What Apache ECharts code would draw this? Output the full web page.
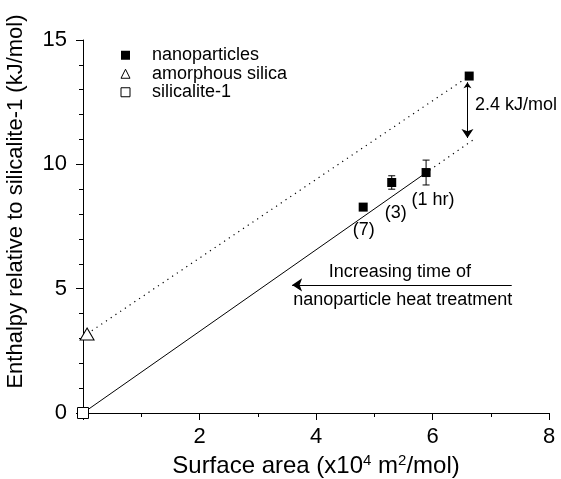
<!DOCTYPE html>
<html>
<head>
<meta charset="utf-8">
<script src="https://cdn.jsdelivr.net/npm/echarts@6/dist/echarts.min.js"></script>
<style>
  html, body { margin: 0; padding: 0; background: #fff; }
  #chart { width: 561px; height: 479px; }
</style>
</head>
<body>
<div id="chart"></div>
<script>
// ---- data ----
var nanoX = [6.63, 5.89, 5.30, 4.81];
var nanoY = [13.55, 9.67, 9.27, 8.28];
var nanoErr = [0, 0.5, 0.27, 0];
var amorphousX = [0.07];
var amorphousY = [3.18];
var silicaliteX = [0];
var silicaliteY = [0];
var fitLine = [[0, 0], [5.9, 9.68]];
var fitExtrap = [[5.95, 9.76], [6.75, 11.07]];
var amorphousLine = [[0.07, 3.18], [6.63, 13.55]];
var gapArrow = [[6.6, 13.3], [6.6, 11.06]];
var timeArrow = [[7.36, 5.15], [3.59, 5.15]];
var annotations = [
  [4.82, 7.36, '(7)', 'center'],
  [5.37, 8.04, '(3)', 'center'],
  [6.01, 8.56, '(1 hr)', 'center'],
  [6.73, 12.38, '2.4 kJ/mol', 'left'],
  [5.44, 5.67, 'Increasing time of', 'center'],
  [5.49, 4.54, 'nanoparticle heat treatment', 'center']
];
var xTicks = { min: 0, max: 8, interval: 2 };
var yTicks = { min: 0, max: 15, interval: 5 };
var xName = 'Surface area (x10{sup|4} m{sup|2}/mol)';
var yName = 'Enthalpy relative to silicalite-1 (kJ/mol)';

var FONT = '"Liberation Sans", Arial, sans-serif';

function zip(xs, ys) { return xs.map(function (x, i) { return [x, ys[i]]; }); }

var errData = nanoX.map(function (x, i) { return [x, nanoY[i], nanoErr[i]]; })
  .filter(function (d) { return d[2] > 0; });

var chart = echarts.init(document.getElementById('chart'), null, { renderer: 'canvas' });

var axisCommon = {
  axisLine: { onZero: false, lineStyle: { color: '#000', width: 1 } },
  axisTick: { show: true, inside: false, length: 7, lineStyle: { color: '#000' } },
  splitLine: { show: false },
  minorSplitLine: { show: false },
  axisLabel: { color: '#000', fontFamily: FONT, fontSize: 22 },
  nameTextStyle: { color: '#000', fontFamily: FONT, fontSize: 22 }
};

var option = {
  animation: false,
  backgroundColor: '#fff',
  textStyle: { fontFamily: FONT },
  grid: { left: 83, right: 12, top: 40, bottom: 66, containLabel: false, outerBoundsMode: 'none' },
  legend: {
    orient: 'vertical',
    left: 115.5,
    top: 41,
    itemGap: 0,
    itemWidth: 9,
    itemHeight: 9,
    selectedMode: false,
    textStyle: { color: '#000', fontFamily: FONT, fontSize: 18, lineHeight: 18.5, padding: [0, 0, 0, 17] },
    data: [
      { name: 'nanoparticles', itemStyle: { color: '#000', opacity: 1 } },
      { name: 'amorphous silica', itemStyle: { color: '#fff', borderColor: '#000', borderWidth: 1, opacity: 1 } },
      { name: 'silicalite-1', itemStyle: { color: '#fff', borderColor: '#000', borderWidth: 1, opacity: 1 } }
    ]
  },
  xAxis: Object.assign({}, axisCommon, {
    type: 'value',
    min: xTicks.min, max: xTicks.max, interval: xTicks.interval,
    minorTick: { show: true, splitNumber: 2, length: 4, lineStyle: { color: '#000' } },
    axisLabel: Object.assign({}, axisCommon.axisLabel, {
      margin: 13,
      formatter: function (v) { return v === 0 ? '' : String(v); }
    }),
    name: xName,
    nameLocation: 'middle',
    nameGap: 33,
    nameTextStyle: Object.assign({}, axisCommon.nameTextStyle, {
      fontSize: 24,
      rich: { sup: { fontSize: 15, verticalAlign: 'top', padding: [0, 0, 12, 0], fontFamily: FONT, color: '#000' } }
    })
  }),
  yAxis: Object.assign({}, axisCommon, {
    type: 'value',
    min: yTicks.min, max: yTicks.max, interval: yTicks.interval,
    minorTick: { show: true, splitNumber: 5, length: 4, lineStyle: { color: '#000' } },
    axisLabel: Object.assign({}, axisCommon.axisLabel, { margin: 16 }),
    name: yName,
    nameLocation: 'middle',
    nameGap: 56,
    nameTextStyle: Object.assign({}, axisCommon.nameTextStyle, { padding: [0, 0, 0, 50] })
  }),
  series: [
    {
      name: 'fit', type: 'line', data: fitLine, symbol: 'none', silent: true,
      lineStyle: { color: '#000', width: 1 }, z: 1
    },
    {
      name: 'fitExtrap', type: 'line', data: fitExtrap, symbol: 'none', silent: true,
      lineStyle: { color: '#000', width: 1.2, type: [1.2, 4.5] }, z: 1
    },
    {
      name: 'amorphousLine', type: 'line', data: amorphousLine, symbol: 'none', silent: true,
      lineStyle: { color: '#000', width: 1.2, type: [1.2, 4.5] }, z: 1
    },
    {
      name: 'errorbars', type: 'custom', data: errData, z: 2, silent: true,
      renderItem: function (params, api) {
        var x = api.value(0), y = api.value(1), e = api.value(2);
        var top = api.coord([x, y + e]);
        var bot = api.coord([x, y - e]);
        var cap = 3.5;
        var st = { stroke: '#000', lineWidth: 1 };
        return {
          type: 'group',
          children: [
            { type: 'line', shape: { x1: top[0], y1: top[1], x2: bot[0], y2: bot[1] }, style: st },
            { type: 'line', shape: { x1: top[0] - cap, y1: top[1], x2: top[0] + cap, y2: top[1] }, style: st },
            { type: 'line', shape: { x1: bot[0] - cap, y1: bot[1], x2: bot[0] + cap, y2: bot[1] }, style: st }
          ]
        };
      }
    },
    {
      name: 'gapArrow', type: 'lines', coordinateSystem: 'cartesian2d', silent: true, z: 2,
      symbol: ['arrow', 'arrow'], symbolSize: [6, 9],
      lineStyle: { color: '#000', width: 1, opacity: 1 },
      data: [{ coords: gapArrow }]
    },
    {
      name: 'timeArrow', type: 'lines', coordinateSystem: 'cartesian2d', silent: true, z: 2,
      symbol: ['none', 'arrow'], symbolSize: [6, 10],
      lineStyle: { color: '#000', width: 1, opacity: 1 },
      data: [{ coords: timeArrow }]
    },
    {
      name: 'nanoparticles', type: 'scatter', data: zip(nanoX, nanoY),
      symbol: 'rect', symbolSize: 9, clip: false, z: 5,
      itemStyle: { color: '#000', borderColor: '#000', borderWidth: 0, opacity: 1 }
    },
    {
      name: 'amorphous silica', type: 'scatter', data: zip(amorphousX, amorphousY),
      symbol: 'triangle', symbolSize: [14, 12], clip: false, z: 5,
      itemStyle: { color: '#fff', borderColor: '#000', borderWidth: 1, opacity: 1 }
    },
    {
      name: 'silicalite-1', type: 'scatter', data: zip(silicaliteX, silicaliteY),
      symbol: 'rect', symbolSize: 11, clip: false, z: 5,
      itemStyle: { color: '#fff', borderColor: '#000', borderWidth: 1, opacity: 1 }
    },
    {
      name: 'annotations', type: 'scatter', silent: true, symbolSize: 0, z: 6,
      itemStyle: { opacity: 1 },
      data: annotations.map(function (a) {
        return {
          value: [a[0], a[1]],
          label: {
            show: true, position: 'inside', formatter: a[2],
            align: a[3], verticalAlign: 'middle',
            color: '#000', opacity: 1, fontFamily: FONT, fontSize: 18
          }
        };
      })
    }
  ]
};

chart.setOption(option);
</script>
</body>
</html>
